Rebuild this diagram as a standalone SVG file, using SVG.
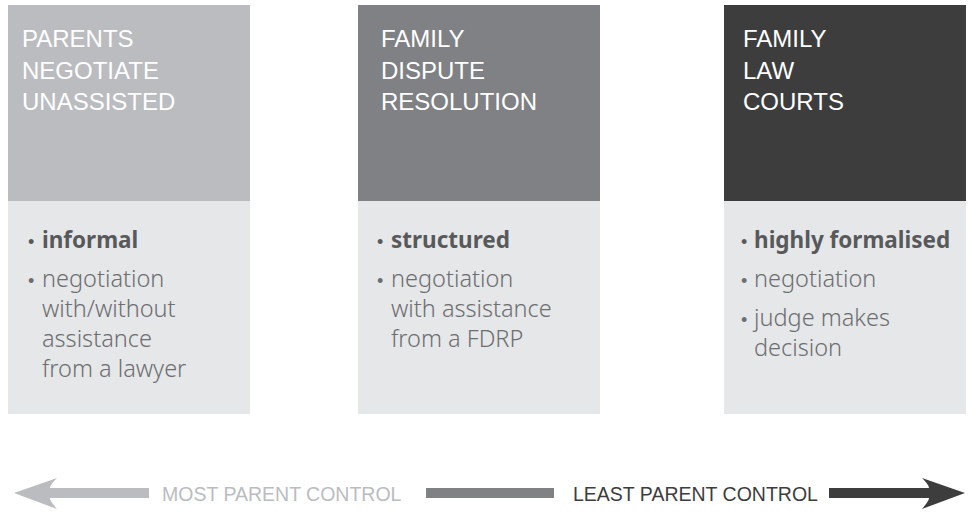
<svg xmlns="http://www.w3.org/2000/svg" width="969" height="517" viewBox="0 0 969 517">
  <style>
    .head { font-family: "Liberation Sans", Arial, sans-serif; font-size: 24px; fill: #ffffff; }
    .body { fill: #e6e7e8; }
    .key { font-family: "Noto Sans", "Liberation Sans", sans-serif; font-size: 22.5px; font-weight: 700; fill: #58595b; }
    .item { font-family: "Noto Sans", "Liberation Sans", sans-serif; font-size: 23.5px; font-weight: 300; fill: #6d6e71; }
    .dot { font-family: "Liberation Sans", sans-serif; font-size: 18px; font-weight: 400; }
    .scale { font-family: "Liberation Sans", Arial, sans-serif; font-size: 19.5px; }
  </style>

  <!-- Stage 1 -->
  <g id="parents-unassisted">
    <rect x="8" y="5" width="242" height="196" fill="#bbbcbf"/>
    <rect class="body" x="8" y="201" width="242" height="213"/>
    <text class="head" x="22" y="47">PARENTS</text>
    <text class="head" x="22" y="78.5">NEGOTIATE</text>
    <text class="head" x="22" y="110">UNASSISTED</text>
    <text class="key dot" x="28" y="248">•</text>
    <text class="key" x="42" y="248">informal</text>
    <text class="item dot" x="28" y="287">•</text>
    <text class="item" x="42" y="287">negotiation</text>
    <text class="item" x="42" y="317">with/without</text>
    <text class="item" x="42" y="347">assistance</text>
    <text class="item" x="42" y="377">from a lawyer</text>
  </g>

  <!-- Stage 2 -->
  <g id="family-dispute-resolution">
    <rect x="358" y="5" width="242" height="196" fill="#808184"/>
    <rect class="body" x="358" y="201" width="242" height="213"/>
    <text class="head" x="381" y="47">FAMILY</text>
    <text class="head" x="381" y="78.5">DISPUTE</text>
    <text class="head" x="381" y="110">RESOLUTION</text>
    <text class="key dot" x="377" y="248">•</text>
    <text class="key" x="391" y="248">structured</text>
    <text class="item dot" x="377" y="287">•</text>
    <text class="item" x="391" y="287">negotiation</text>
    <text class="item" x="391" y="317">with assistance</text>
    <text class="item" x="391" y="347">from a FDRP</text>
  </g>

  <!-- Stage 3 -->
  <g id="family-law-courts">
    <rect x="724" y="5" width="242" height="196" fill="#3d3d3e"/>
    <rect class="body" x="724" y="201" width="242" height="213"/>
    <text class="head" x="743" y="47">FAMILY</text>
    <text class="head" x="743" y="78.5">LAW</text>
    <text class="head" x="743" y="110">COURTS</text>
    <text class="key dot" x="741" y="248">•</text>
    <text class="key" x="754" y="248">highly formalised</text>
    <text class="item dot" x="741" y="287">•</text>
    <text class="item" x="754" y="287">negotiation</text>
    <text class="item dot" x="741" y="326">•</text>
    <text class="item" x="754" y="326">judge makes</text>
    <text class="item" x="754" y="356">decision</text>
  </g>

  <!-- Control scale running along the bottom -->
  <g id="connectors">
    <path d="M14,493 L57,478 C52,483 50,486 50,488 L149,488 L149,498 L50,498 C50,500 52,503 57,509 Z" fill="#bbbcbf"/>
    <rect x="426" y="488" width="128" height="10" fill="#808184"/>
    <path d="M829,488 L929,488 C929,486 927,483 922,478 L965,493 L922,509 C927,503 929,500 929,498 L829,498 Z" fill="#3d3d3e"/>
    <text class="scale" x="162" y="501" fill="#bbbcbf">MOST PARENT CONTROL</text>
    <text class="scale" x="573" y="501" fill="#3d3d3e">LEAST PARENT CONTROL</text>
  </g>
</svg>
